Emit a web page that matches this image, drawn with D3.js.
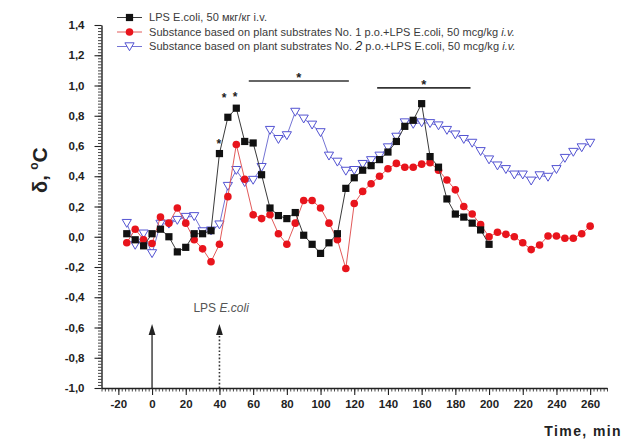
<!DOCTYPE html>
<html>
<head>
<meta charset="utf-8">
<script src="https://cdn.jsdelivr.net/npm/d3@7"></script>
<style>
  html, body { margin: 0; padding: 0; background: #fff; }
  svg { display: block; font-family: "Liberation Sans", Arial, Helvetica, sans-serif; }
</style>
</head>
<body>
<svg id="chart" width="626" height="441"></svg>
<script>
// Body temperature change (δ, °C) after LPS E.coli injection, three groups, 5-min readings.
const timesLps = [-15, -10, -5, 0, 5, 10, 15, 20, 25, 30, 35, 40, 45, 50, 55, 60, 65, 70, 75, 80,
  85, 90, 95, 100, 105, 110, 115, 120, 125, 130, 135, 140, 145, 150, 155, 160, 165, 170, 175, 180,
  185, 190, 195, 200];
const valuesLps = [0.02, -0.02, -0.06, 0.02, 0.05, 0.00, -0.10, -0.07, 0.02, 0.02, 0.04, 0.55, 0.79, 0.85,
  0.63, 0.62, 0.41, 0.19, 0.14, 0.12, 0.16, 0.01, -0.05, -0.11, -0.04, 0.02, 0.32, 0.39, 0.44, 0.47,
  0.51, 0.56, 0.63, 0.73, 0.77, 0.88, 0.53, 0.46, 0.25, 0.15, 0.13, 0.09, 0.045, -0.05];

const timesSubstance = [-15, -10, -5, 0, 5, 10, 15, 20, 25, 30, 35, 40, 45, 50, 55, 60, 65, 70, 75, 80,
  85, 90, 95, 100, 105, 110, 115, 120, 125, 130, 135, 140, 145, 150, 155, 160, 165, 170, 175, 180,
  185, 190, 195, 200, 205, 210, 215, 220, 225, 230, 235, 240, 245, 250, 255, 260];
const valuesSubstance1 = [-0.04, 0.05, -0.02, -0.045, 0.13, 0.09, 0.19, 0.09, -0.02, -0.08, -0.165, -0.05,
  0.265, 0.61, 0.38, 0.145, 0.12, 0.145, 0.02, -0.05, 0.09, 0.24, 0.24, 0.19, 0.09, -0.02, -0.21, 0.22,
  0.30, 0.35, 0.40, 0.45, 0.485, 0.46, 0.46, 0.48, 0.49, 0.44, 0.375, 0.31, 0.20, 0.15, 0.08, 0.00,
  0.03, 0.016, 0.00, -0.04, -0.085, -0.055, 0.005, 0.005, -0.01, -0.01, 0.02, 0.07];
const valuesSubstance2 = [0.09, -0.055, 0.02, -0.11, 0.085, 0.085, 0.11, 0.13, 0.135, 0.035, 0.04, 0.08,
  0.335, 0.44, 0.36, 0.375, 0.46, 0.705, 0.645, 0.67, 0.825, 0.78, 0.74, 0.69, 0.535, 0.495, 0.435, 0.44,
  0.48, 0.505, 0.535, 0.59, 0.66, 0.755, 0.745, 0.755, 0.75, 0.735, 0.705, 0.675, 0.645, 0.62, 0.565,
  0.51, 0.47, 0.446, 0.41, 0.41, 0.37, 0.405, 0.395, 0.446, 0.52, 0.56, 0.59, 0.62];

const xTickValues = [-20, 0, 20, 40, 60, 80, 100, 120, 140, 160, 180, 200, 220, 240, 260];
const yTickValues = [-1.0, -0.8, -0.6, -0.4, -0.2, 0.0, 0.2, 0.4, 0.6, 0.8, 1.0, 1.2, 1.4];

// significance bars: [start time, end time, level]
const sigBars = [[57.4, 116.8, 1.03], [133.6, 189.0, 0.984]];
// single-point asterisks on the LPS curve: [time offset, level]
const pointStars = [[39.7, 0.63], [42.8, 0.935], [49.3, 0.945]];
// injection moments
const injections = [{ t: 0, dotted: false }, { t: 40, dotted: true }];

const svg = d3.select("#chart");
const x = d3.scaleLinear().domain([-30, 270]).range([101.5, 607]);
const y = d3.scaleLinear().domain([-1.0, 1.4]).range([388, 25]);

const axisColor = "#222";
const fmtY = d => (d < 0 ? "-" : "") + Math.abs(d).toFixed(1).replace(".", ",");

// minor ticks (ruler-like)
const gxMinor = svg.append("g").attr("transform", `translate(0,${y(-1.0)})`)
  .call(d3.axisBottom(x).tickValues(d3.range(-30, 270.01, 2)).tickSize(3.5).tickFormat(""));
gxMinor.select(".domain").remove();
const gyMinor = svg.append("g").attr("transform", `translate(${x(-30)},0)`)
  .call(d3.axisLeft(y).tickValues(d3.range(-1.0, 1.4001, 0.02)).tickSize(3.5).tickFormat(""));
gyMinor.select(".domain").remove();
[gxMinor, gyMinor].forEach(g => g.selectAll("line").attr("stroke", "#333").attr("stroke-width", 0.9));

// major axes
const gx = svg.append("g").attr("transform", `translate(0,${y(-1.0)})`)
  .call(d3.axisBottom(x).tickValues(xTickValues).tickSize(7).tickPadding(5).tickSizeOuter(0).tickFormat(d => d));
const gy = svg.append("g").attr("transform", `translate(${x(-30)},0)`)
  .call(d3.axisLeft(y).tickValues(yTickValues).tickSize(7).tickPadding(10).tickSizeOuter(0).tickFormat(fmtY));
[gx, gy].forEach(g => {
  g.select(".domain").attr("stroke", axisColor).attr("stroke-width", 1.4);
  g.selectAll(".tick line").attr("stroke", axisColor).attr("stroke-width", 1.1);
  g.selectAll(".tick text").attr("fill", "#222").attr("font-size", "11.5px")
    .attr("font-weight", "bold").attr("font-family", "'Liberation Sans', Arial, sans-serif");
});

// axis titles
svg.append("text").attr("x", 622).attr("y", 436).attr("text-anchor", "end")
  .attr("font-size", "14px").attr("font-weight", "bold").attr("letter-spacing", "1.4px")
  .attr("fill", "#222").text("Time, min");

const yTitle = svg.append("text").attr("transform", "translate(47,193) rotate(-90)")
  .attr("font-weight", "bold").attr("fill", "#222");
yTitle.append("tspan").attr("font-size", "20px").text("δ, ");
yTitle.append("tspan").attr("font-size", "12px").attr("dy", -9).text("o");
yTitle.append("tspan").attr("font-size", "21px").attr("dy", 9).text("C");

// injection arrows
injections.forEach(inj => {
  const xx = x(inj.t);
  svg.append("line").attr("x1", xx).attr("x2", xx).attr("y1", y(-1.0)).attr("y2", 333)
    .attr("stroke", "#333").attr("stroke-width", inj.dotted ? 1.6 : 1.4)
    .attr("stroke-dasharray", inj.dotted ? "1.6,2" : null);
  svg.append("path").attr("d", `M${xx},324 L${xx - 3.4},335 L${xx + 3.4},335 Z`).attr("fill", "#222");
});
const lpsLabel = svg.append("text").attr("x", x(40) - 26).attr("y", 312)
  .attr("font-size", "12px").attr("fill", "#555");
lpsLabel.append("tspan").text("LPS ");
lpsLabel.append("tspan").attr("font-style", "italic").text("E.coli");

// series
const seriesSpec = [
  { times: timesSubstance, values: valuesSubstance2, line: "#7474d4", kind: "tri" },
  { times: timesSubstance, values: valuesSubstance1, line: "#e25a5a", kind: "circle" },
  { times: timesLps, values: valuesLps, line: "#3a3a3a", kind: "square" }
];
const lineGen = d3.line().x(d => x(d.t)).y(d => y(d.v));
const triPath = "M-4.6,-3.7 L4.6,-3.7 L0,4.2 Z";

function drawMarker(sel, kind) {
  if (kind === "square") {
    sel.append("rect").attr("x", -3.6).attr("y", -3.6).attr("width", 7.2).attr("height", 7.2).attr("fill", "#111");
  } else if (kind === "circle") {
    sel.append("circle").attr("r", 3.8).attr("fill", "#e8141c");
  } else {
    sel.append("path").attr("d", triPath).attr("fill", "#fff").attr("stroke", "#5353d2").attr("stroke-width", 1);
  }
}

seriesSpec.forEach(s => {
  const pts = s.times.map((t, i) => ({ t, v: s.values[i] }));
  svg.append("path").datum(pts).attr("d", lineGen).attr("fill", "none")
    .attr("stroke", s.line).attr("stroke-width", 1);
  const g = svg.append("g").selectAll("g").data(pts).join("g")
    .attr("transform", d => `translate(${x(d.t)},${y(d.v)})`);
  drawMarker(g, s.kind);
});

// significance annotations
sigBars.forEach(b => {
  svg.append("line").attr("x1", x(b[0])).attr("x2", x(b[1])).attr("y1", y(b[2])).attr("y2", y(b[2]))
    .attr("stroke", "#333").attr("stroke-width", 1.6);
  svg.append("text").attr("x", x((b[0] + b[1]) / 2)).attr("y", y(b[2]) + 1).attr("text-anchor", "middle")
    .attr("font-size", "13px").attr("font-weight", "bold").attr("fill", "#222").text("*");
});
pointStars.forEach(p => {
  svg.append("text").attr("x", x(p[0])).attr("y", y(p[1]) + 7).attr("text-anchor", "middle")
    .attr("font-size", "12px").attr("font-weight", "bold").attr("fill", "#222").text("*");
});

// legend
const legendRows = [
  { kind: "square", line: "#3a3a3a", parts: [["LPS E.coli, 50 мкг/кг i.v.", ""]] },
  { kind: "circle", line: "#e25a5a", parts: [["Substance based on plant substrates No. 1 p.o.+LPS E.coli, 50 mcg/kg ", ""], ["i.v.", "italic"]] },
  { kind: "tri", line: "#7474d4", parts: [["Substance based on plant substrates No. ", ""], ["2", "italic"], [" p.o.+LPS E.coli, 50 mcg/kg ", ""], ["i.v.", "italic"]] }
];
const legendY = [17.5, 32, 46.5];
legendRows.forEach((r, i) => {
  const g = svg.append("g").attr("transform", `translate(0,${legendY[i]})`);
  g.append("line").attr("x1", 117).attr("x2", 142).attr("stroke", r.line).attr("stroke-width", 1);
  drawMarker(g.append("g").attr("transform", "translate(129.5,0)"), r.kind);
  const t = g.append("text").attr("x", 149).attr("y", 3.8).attr("font-size", "11px")
    .attr("letter-spacing", "0.05px").attr("fill", "#3a3a3a");
  r.parts.forEach(p => {
    const ts = t.append("tspan").text(p[0]);
    if (p[1]) ts.attr("font-style", p[1]);
    if (p[0] === "2") ts.attr("font-size", "12.5px").attr("fill", "#222");
  });
});
</script>
</body>
</html>
